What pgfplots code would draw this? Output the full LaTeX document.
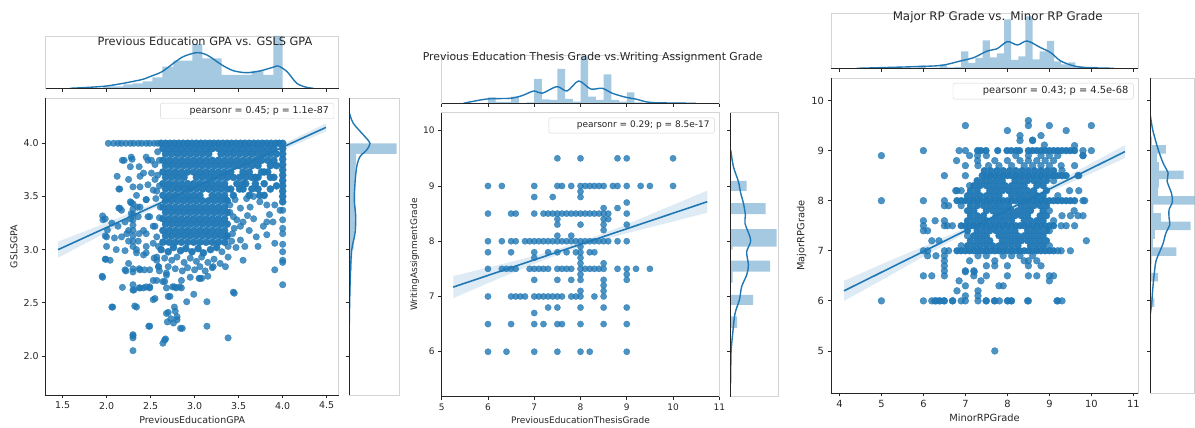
\documentclass[border=0pt]{standalone}
\usepackage{fontspec}
\setmainfont{DejaVu Sans}
\usepackage{pgfplots}
\pgfplotsset{compat=1.18}
\definecolor{c1}{HTML}{1F77B4}
\definecolor{spine}{HTML}{262626}
\definecolor{lgray}{HTML}{D4D4D4}
\newcommand{\tickfont}{\fontsize{9.45}{11}\selectfont}
\newcommand{\tickfontB}{\fontsize{9.0}{11}\selectfont}
\newcommand{\tickfontC}{\fontsize{9.85}{11}\selectfont}
\newcommand{\titlefont}{\fontsize{11.34}{13}\selectfont}
\newcommand{\titlefontB}{\fontsize{10.86}{13}\selectfont}
\newcommand{\titlefontC}{\fontsize{11.85}{13}\selectfont}
\tikzset{
  pr/.style={draw=lgray, rounded corners=2pt, fill=white, anchor=north east, inner xsep=5pt, inner ysep=3.3pt, font=\tickfont, text=spine, xshift=-4.5pt, yshift=-5pt},
  onedec/.style={/pgf/number format/.cd, fixed, fixed zerofill, precision=1, /tikz/.cd},
}
\pgfplotsset{
  base/.style={scale only axis, anchor=south west,
    axis line style={lgray, line width=0.8pt},
    tick align=outside, major tick length=3.5pt,
    tick style={spine, line width=0.8pt},
    /pgf/number format/assume math mode=true,
    tick label style={font=\tickfont, text=spine},
    label style={font=\tickfont, text=spine}},
  mainax/.style={base, xtick pos=left, ytick pos=left,
    after end axis/.code={\draw[spine, line width=0.8pt] (rel axis cs:0,1) -- (rel axis cs:0,0) -- (rel axis cs:1,0);}},
  topax/.style={base, xtick pos=left, ytick=\empty, xticklabels={}, ymin=0,
    after end axis/.code={\draw[spine, line width=0.8pt] (rel axis cs:0,0) -- (rel axis cs:1,0);}},
  rightax/.style={base, ytick pos=left, xtick=\empty, yticklabels={}, xmin=0,
    after end axis/.code={\draw[spine, line width=0.8pt] (rel axis cs:0,0) -- (rel axis cs:0,1);}},
  sc/.style={only marks, mark=*, mark size=3.3pt, color=c1, mark options={fill=c1, draw=c1, fill opacity=0.8, draw opacity=0.8, line width=0.3pt}},
  scd/.style={only marks, mark=*, mark size=3.3pt, color=c1, mark options={fill=c1, draw=c1, fill opacity=0.96, draw opacity=0.96, line width=0.3pt}},
  band/.style={fill=c1, fill opacity=0.15, draw=none},
  reg/.style={c1, line width=1.6pt},
  hist/.style={fill=c1, fill opacity=0.4, draw=none},
  kde/.style={c1, line width=1.4pt, smooth},
}
\begin{document}
\begin{tikzpicture}
\useasboundingbox (0pt,0pt) rectangle (1195pt,428pt);
% ================= PANEL 1 =================
\begin{axis}[mainax, at={(45.7pt,33pt)}, width=293pt, height=297pt,
  xmin=1.309, xmax=4.636, ymin=1.633, ymax=4.426,
  xtick={1.5,2,2.5,3,3.5,4,4.5}, ytick={2,2.5,3,3.5,4},
  x tick label style={onedec}, y tick label style={onedec},
  xlabel={PreviousEducationGPA}, ylabel={GSLSGPA},
  xlabel style={at={(axis description cs:0.5,-0.0842)}, anchor=center},
  ylabel style={at={(axis description cs:-0.1082,0.5)}, anchor=center},
  after end axis/.append code={\node[pr] at (rel axis cs:1,1) {\hspace*{24pt}pearsonr = 0.45; p = 1.1e-87};}]
% dense part
\addplot[scd, mark size=3.6pt] coordinates {
(2.62,4) (2.67,4) (2.72,4) (2.77,4) (2.82,4) (2.87,4) (2.92,4) (2.97,4) (3.02,4) (3.07,4) (3.12,4) (3.17,4) (3.22,4) (3.27,4) (3.32,4)
(3.37,4) (3.42,4) (3.47,4) (3.52,4) (3.57,4) (3.62,4) (3.67,4) (3.72,4) (3.77,4) (3.82,4) (3.87,4) (3.92,4) (3.96,4) (4,4)
(2.64,3.95) (2.71,3.95) (2.78,3.95) (2.85,3.95) (2.92,3.95) (2.99,3.95) (3.06,3.95) (3.13,3.95) (3.20,3.95) (3.27,3.95) (3.34,3.95)
(2.67,3.90) (2.74,3.90) (2.81,3.90) (2.88,3.90) (2.95,3.90) (3.02,3.90) (3.09,3.90) (3.16,3.90) (3.30,3.90) (3.37,3.90)
(2.64,3.84) (2.71,3.84) (2.78,3.84) (2.85,3.84) (2.92,3.84) (2.99,3.84) (3.06,3.84) (3.13,3.84) (3.20,3.84) (3.27,3.84) (3.34,3.84)
(2.67,3.79) (2.74,3.79) (2.81,3.79) (2.88,3.79) (2.95,3.79) (3.02,3.79) (3.09,3.79) (3.16,3.79) (3.23,3.79) (3.30,3.79) (3.37,3.79)
(2.64,3.73) (2.71,3.73) (2.78,3.73) (2.85,3.73) (2.92,3.73) (2.99,3.73) (3.06,3.73) (3.13,3.73) (3.20,3.73) (3.27,3.73) (3.34,3.73)
(2.67,3.68) (2.74,3.68) (2.81,3.68) (2.88,3.68) (3.02,3.68) (3.09,3.68) (3.16,3.68) (3.23,3.68) (3.30,3.68) (3.37,3.68)
(2.64,3.62) (2.71,3.62) (2.78,3.62) (2.85,3.62) (2.92,3.62) (2.99,3.62) (3.06,3.62) (3.13,3.62) (3.20,3.62) (3.27,3.62) (3.34,3.62)
(2.67,3.57) (2.74,3.57) (2.81,3.57) (2.88,3.57) (2.95,3.57) (3.02,3.57) (3.09,3.57) (3.16,3.57) (3.23,3.57) (3.30,3.57) (3.37,3.57)
(2.64,3.51) (2.71,3.51) (2.78,3.51) (2.85,3.51) (2.92,3.51) (2.99,3.51) (3.06,3.51) (3.20,3.51) (3.27,3.51) (3.34,3.51)
(2.67,3.46) (2.74,3.46) (2.81,3.46) (2.88,3.46) (2.95,3.46) (3.02,3.46) (3.09,3.46) (3.16,3.46) (3.23,3.46) (3.30,3.46) (3.37,3.46)
(2.64,3.40) (2.71,3.40) (2.78,3.40) (2.85,3.40) (2.92,3.40) (2.99,3.40) (3.06,3.40) (3.13,3.40) (3.20,3.40) (3.27,3.40) (3.34,3.40)
(2.67,3.35) (2.74,3.35) (2.81,3.35) (2.88,3.35) (2.95,3.35) (3.02,3.35) (3.09,3.35) (3.16,3.35) (3.23,3.35) (3.30,3.35) (3.37,3.35)
(2.64,3.29) (2.71,3.29) (2.78,3.29) (2.85,3.29) (2.92,3.29) (2.99,3.29) (3.06,3.29) (3.13,3.29) (3.20,3.29) (3.27,3.29) (3.34,3.29)
(2.67,3.24) (2.74,3.24) (2.81,3.24) (2.88,3.24) (2.95,3.24) (3.02,3.24) (3.09,3.24) (3.16,3.24) (3.23,3.24) (3.30,3.24) (3.37,3.24)
(2.64,3.18) (2.71,3.18) (2.78,3.18) (2.85,3.18) (2.92,3.18) (2.99,3.18) (3.06,3.18) (3.13,3.18) (3.20,3.18) (3.27,3.18) (3.34,3.18)
(2.67,3.13) (2.74,3.13) (2.81,3.13) (2.88,3.13) (2.95,3.13) (3.02,3.13) (3.09,3.13) (3.16,3.13) (3.23,3.13) (3.30,3.13) (3.37,3.13)
(2.64,3.07) (2.71,3.07) (2.78,3.07) (2.85,3.07) (2.92,3.07) (2.99,3.07) (3.06,3.07) (3.13,3.07) (3.20,3.07) (3.27,3.07) (3.34,3.07)
(3.41,3.95) (3.48,3.95) (3.55,3.95) (3.62,3.95) (3.69,3.95) (3.76,3.95) (3.83,3.95) (3.90,3.95)
(3.44,3.90) (3.51,3.90) (3.58,3.90) (3.65,3.90) (3.72,3.90) (3.79,3.90) (3.86,3.90) (3.93,3.90)
(3.41,3.84) (3.48,3.84) (3.55,3.84) (3.62,3.84) (3.69,3.84) (3.76,3.84) (3.83,3.84) (3.90,3.84)
(3.44,3.79) (3.51,3.79) (3.58,3.79) (3.65,3.79) (3.72,3.79) (3.86,3.79) (3.93,3.79)
(3.41,3.73) (3.55,3.73) (3.62,3.73) (3.76,3.73) (3.79,3.73) (3.83,3.73)
(3.44,3.68) (3.51,3.68) (3.58,3.68) (3.65,3.68) (3.69,3.68) (3.72,3.68) (3.86,3.68) (3.90,3.68)
(3.48,3.62) (3.55,3.62) (3.58,3.62) (3.69,3.62) (3.79,3.62) (3.93,3.60)
(3.41,3.57) (3.51,3.57) (3.55,3.57) (3.65,3.57) (3.72,3.57) (3.86,3.57) (3.44,3.51) (3.62,3.51) (3.74,3.51) (3.79,3.51)
(4,3.95) (4,3.90) (4,3.85) (4,3.80) (4,3.75) (4,3.70) (4,3.65) (4,3.60) (4,3.55) (4,3.50) (4,3.45)
(2.62,3.0) (2.70,2.98) (2.76,3.02) (2.84,2.99) (2.90,3.01) (2.97,2.98) (3.04,3.01) (3.10,2.97) (3.18,3.0) (3.25,3.02)
};
% sparse part
\addplot[sc] coordinates {
(2.02,4) (2.08,4) (2.13,4) (2.17,4) (2.22,4) (2.27,4) (2.31,4) (2.36,4) (2.40,4) (2.45,4) (2.49,4) (2.54,4) (2.58,4)
(4,3.37) (4,3.28) (4,3.20) (4,3.15) (4,3.05) (4,2.98) (4,2.90) (4,2.88) (4,2.67)
(3.36,3.47) (3.40,3.42) (3.44,3.31) (3.52,3.39) (3.63,3.40) (3.55,3.26) (3.67,3.29) (3.82,3.42) (3.91,3.42) (3.97,3.37)
(3.82,3.26) (3.89,3.26) (3.52,3.22) (3.36,3.12) (3.42,3.08) (3.52,3.09) (3.57,3.03) (3.72,3.03) (3.82,3.14) (3.91,3.06)
(3.55,2.90) (3.91,2.81) (3.44,2.60) (3.46,3.47) (3.59,3.48) (3.67,3.50) (3.74,3.45) (3.78,3.22) (3.62,3.18) (3.45,3.20)
(3.70,3.12) (3.48,3.28) (3.40,3.35) (3.85,3.33) (3.43,3.15) (3.47,3.02) (3.60,3.32)
(3.31,2.98) (2.66,2.92) (2.74,2.90) (2.80,2.93) (2.88,2.88) (2.95,2.92) (3.02,2.89) (3.08,2.93) (3.15,2.88) (3.22,2.91)
(2.70,2.84) (2.78,2.82) (2.86,2.80) (2.92,2.83) (3.00,2.81) (3.06,2.84) (3.12,2.80) (3.20,2.83) (2.68,2.76) (2.95,2.74)
(3.05,2.73) (2.85,2.71) (3.15,2.75) (2.64,2.70) (2.75,2.65) (2.83,2.65) (2.60,2.80) (2.57,2.90) (2.59,2.84)
(1.955,3.317) (1.985,3.29) (2.01,3.185) (1.985,3.13) (2.0,3.12) (1.985,2.91) (1.955,2.74) (2.07,2.46) (2.12,3.69) (2.14,3.57)
(2.14,3.39) (2.09,3.11) (2.13,3.22) (2.18,2.645) (2.22,2.80) (2.21,2.99) (2.23,3.15) (2.20,3.84) (2.28,3.87) (2.29,3.85)
(2.27,3.78) (2.25,3.66) (2.27,3.45) (2.28,3.34) (2.30,3.03) (2.30,3.08) (2.30,3.13) (2.30,3.18) (2.30,3.23) (2.30,3.28)
(2.30,3.33) (2.30,3.38) (2.30,3.43) (2.30,2.82) (2.30,2.67) (2.31,2.62) (2.32,2.47) (2.30,2.19) (2.30,2.17) (2.30,2.05)
(2.38,3.69) (2.37,3.78) (2.35,3.40) (2.34,3.51) (2.36,3.31) (2.37,3.15) (2.34,2.97) (2.37,2.82) (2.37,2.64) (2.42,2.64)
(2.43,2.81) (2.45,2.97) (2.45,3.15) (2.47,3.31) (2.45,3.47) (2.47,3.61) (2.47,3.84) (2.51,3.72) (2.53,3.56) (2.49,2.65)
(2.48,2.28) (2.53,2.53) (2.57,2.71) (2.59,2.84) (2.54,2.92) (2.59,3.03) (2.57,3.12) (2.55,3.22) (2.61,3.40) (2.60,3.84)
(2.15,3.57) (2.18,3.84) (2.15,3.39) (2.17,3.12) (2.25,3.08) (2.27,3.29) (2.28,3.44) (2.30,3.59) (2.38,3.59) (2.42,3.72)
(2.45,3.87) (2.51,3.84) (2.55,3.66) (2.57,3.55) (2.45,3.47) (2.38,3.40) (2.49,3.31) (2.53,3.22) (2.42,3.18) (2.36,3.08)
(2.45,3.03) (2.57,2.93) (2.49,2.81) (2.38,2.81) (2.30,2.79) (2.21,2.81) (2.11,3.0) (2.04,2.90) (2.0,3.03) (1.96,3.28)
(2.06,3.25) (2.17,3.37) (2.21,3.26) (2.25,3.18) (2.34,3.0) (2.42,2.95) (2.53,3.06) (2.25,2.87) (2.30,2.62) (2.38,2.64)
(2.45,2.65) (2.53,2.71) (2.55,2.54) (2.49,2.64) (2.58,3.70) (2.60,3.60) (2.56,3.48) (2.60,3.30) (2.58,3.92) (2.55,3.80)
(2.64,2.12) (2.67,2.16) (2.68,2.40) (2.70,2.41) (2.73,2.35) (2.76,2.31) (2.80,2.34) (2.77,2.46) (2.70,2.56) (2.72,2.56)
(2.68,2.64) (2.66,2.70) (2.68,2.78) (2.77,2.65) (2.79,2.64) (2.85,2.64) (2.84,2.26) (2.86,2.26) (2.91,2.51) (2.99,2.58)
(3.06,2.73) (3.08,2.73) (3.14,2.51) (3.14,2.28) (3.21,2.84) (3.29,2.87) (3.38,2.17) (3.45,2.59) (3.35,2.84) (3.38,2.93)
(3.38,3.03) (2.78,2.42) (2.80,2.37) (2.69,2.32) (2.66,2.15) (2.49,2.28) (2.30,2.20) (2.06,2.46) (2.34,2.46) (1.95,2.75) (1.99,2.91)
};
\addplot[band] coordinates {(1.45,3.075) (2.0,3.253) (2.5,3.422) (3.0,3.601) (3.5,3.793) (4.0,3.992) (4.49,4.187)
 (4.49,4.111) (4.0,3.936) (3.5,3.757) (3.0,3.571) (2.5,3.372) (2.0,3.163) (1.45,2.925)} -- cycle;
\addplot[reg] coordinates {(1.45,3.0) (4.49,4.149)};
\end{axis}
\begin{axis}[topax, at={(45.7pt,339.7pt)}, width=293pt, height=52.3pt,
  xmin=1.309, xmax=4.636, ymax=52.3, xtick={1.5,2,2.5,3,3.5,4,4.5}]
\addplot[hist, ybar interval] coordinates {(1.96,2) (2.19,4) (2.30,5) (2.41,7) (2.52,11) (2.633,21.6) (2.758,27.6)
 (2.974,44.3) (3.087,30) (3.308,13.3) (3.515,13.3) (3.648,17.3) (3.78,13.3) (3.894,52.3) (4.0,0)};
\addplot[kde] coordinates {(1.585,0) (2.0,2.3) (2.38,8.3) (2.49,11.6) (2.63,16.6) (2.76,25) (2.87,31.6) (3.02,35.6)
 (3.14,33.3) (3.31,23.3) (3.44,17.6) (3.59,15.6) (3.74,17.3) (3.89,21) (3.95,22.3) (4.05,16.6) (4.16,5) (4.27,1) (4.35,0)};
\end{axis}
\begin{axis}[rightax, at={(349pt,33pt)}, width=50pt, height=297pt,
  xmax=50, ymin=1.633, ymax=4.426, ytick={2,2.5,3,3.5,4}]
\addplot[hist, xbar interval] coordinates {(0.2,2.0) (0.2,2.1) (0.4,2.2) (0.4,2.3) (0.6,2.4) (0.8,2.5) (1.5,2.6) (1.5,2.7)
 (2.5,2.8) (3,2.9) (4.5,3.0) (5.5,3.1) (6.5,3.2) (6.5,3.3) (6,3.4) (6,3.5) (6,3.6) (6.5,3.7) (7,3.8) (47.7,3.9) (0,4.0)};
\addplot[kde] coordinates {(0,4.297) (4.3,4.188) (16,4.062) (21,4.0) (17.7,3.937) (11,3.874) (7.7,3.78) (6,3.624)
 (5.3,3.467) (6.7,3.31) (6,3.153) (2.7,2.996) (1.3,2.745) (0.3,2.307) (0,1.773)};
\end{axis}
% ================= PANEL 2 =================
\begin{axis}[mainax, at={(441.7pt,31.3pt)}, width=277.6pt, height=284pt,
  tick label style={font=\tickfontB}, label style={font=\tickfontB},
  xmin=5, xmax=11, ymin=5.186, ymax=10.326,
  xtick={5,6,7,8,9,10,11}, ytick={6,7,8,9,10},
  xlabel={PreviousEducationThesisGrade}, ylabel={WritingAssignmentGrade},
  xlabel style={at={(axis description cs:0.5,-0.082)}, anchor=center},
  ylabel style={at={(axis description cs:-0.0973,0.5)}, anchor=center},
  after end axis/.append code={\node[pr, font=\tickfontB] at (rel axis cs:1,1) {\hspace*{23pt}pearsonr = 0.29; p = 8.5e-17};}]
\addplot[sc, mark size=3.15pt] coordinates {
(7.5,9.5) (8,9.5) (8.8,9.5) (9,9.5) (10,9.5)
(6,9) (6.3,9) (7,9) (7.5,9) (7.6,9) (7.8,9) (8,9) (8.1,9) (8.2,9) (8.3,9) (8.4,9) (8.5,9) (8.7,9) (8.8,9) (9,9) (9.3,9) (9.5,9) (10,9)
(8,8.9) (7,8.8) (7.4,8.8) (8,8.8) (9,8.7) (8.8,8.6) (8.5,8.6)
(6,8.5) (6.5,8.5) (6.6,8.5) (7,8.5) (7.2,8.5) (7.3,8.5) (7.4,8.5) (7.5,8.5) (7.6,8.5) (7.7,8.5) (7.8,8.5) (7.9,8.5) (8,8.5)
(8.1,8.5) (8.2,8.5) (8.3,8.5) (8.4,8.5) (8.5,8.5) (8.6,8.5) (9,8.5)
(7.5,8.4) (8.5,8.4) (8.6,8.4) (7.5,8.3) (8,8.3) (8.5,8.3) (9,8.3) (8.5,8.2) (7.5,8.1) (7.8,8.1)
(6,8) (6.3,8) (6.5,8) (6.6,8) (6.8,8) (6.9,8) (7,8) (7.1,8) (7.2,8) (7.3,8) (7.4,8) (7.5,8) (7.6,8) (7.7,8) (7.8,8) (7.9,8)
(8,8) (8.1,8) (8.2,8) (8.3,8) (8.4,8) (8.5,8) (8.6,8) (8.8,8) (9,8) (8,7.9)
(6,7.8) (6.5,7.8) (7,7.8) (7.3,7.8) (7.5,7.8) (7.7,7.8) (7.9,7.8) (8,7.8) (8.2,7.8) (8.3,7.8)
(7,7.7) (8,7.7) (8,7.6) (8.5,7.6)
(6,7.5) (6.3,7.5) (6.4,7.5) (6.5,7.5) (6.6,7.5) (6.9,7.5) (7,7.5) (7.1,7.5) (7.2,7.5) (7.3,7.5) (7.5,7.5) (7.6,7.5)
(7.7,7.5) (7.8,7.5) (8,7.5) (8.1,7.5) (8.2,7.5) (8.3,7.5) (8.4,7.5) (8.5,7.5) (8.8,7.5) (9,7.5) (9.2,7.5) (9.5,7.5)
(8,7.4) (9,7.4) (7,7.3) (7.5,7.3) (7.8,7.3) (8,7.3) (8.5,7.3) (9,7.3) (8.5,7.2) (8,7.1) (8.5,7.1)
(6,7) (6.5,7) (6.6,7) (6.7,7) (6.8,7) (7,7) (7.1,7) (7.2,7) (7.3,7) (7.4,7) (7.5,7) (7.6,7) (7.8,7) (7.9,7) (8,7) (8.3,7) (8.5,7)
(7.3,6.8) (7.5,6.8) (8,6.8) (8.5,6.8) (9,6.8) (7,6.7)
(6,6.5) (6.5,6.5) (7,6.5) (7.2,6.5) (7.5,6.5) (7.6,6.5) (8,6.5) (8.5,6.5) (9,6.5)
(6,6) (6.4,6) (7,6) (7.5,6) (8,6) (8.2,6) (9,6)
};
\addplot[band] coordinates {(5.25,7.37) (6,7.521) (7,7.732) (8,7.984) (9,8.305) (10,8.657) (10.74,8.915)
 (10.74,8.515) (10,8.357) (9,8.145) (8,7.904) (7,7.592) (6,7.241) (5.25,6.97)} -- cycle;
\addplot[reg] coordinates {(5.25,7.17) (10.74,8.715)};
\end{axis}
\begin{axis}[topax, at={(441.7pt,324.7pt)}, width=277.6pt, height=48.3pt,
  xmin=5, xmax=11, ymax=48.3, xtick={5,6,7,8,9,10,11}]
\addplot[hist, ybar interval] coordinates {(6.0,6) (6.167,1.5) (6.333,1.5) (6.5,6.7) (6.667,0.5) (6.833,1) (7.0,24.3)
 (7.167,4) (7.333,3.3) (7.5,34.3) (7.667,4.3) (7.833,1.7) (8.0,47) (8.167,6.7) (8.333,3.3) (8.5,29) (8.667,3.3)
 (8.833,1.7) (9.0,11) (9.167,1) (9.333,0.5) (9.5,1) (9.667,0) (9.833,0) (10.0,0.7) (10.167,0)};
\addplot[kde] coordinates {(5.47,0) (5.98,4.3) (6.48,5) (6.74,7.7) (6.99,12.3) (7.17,10) (7.49,16.7) (7.71,12.3)
 (7.96,22.3) (8.22,14.3) (8.47,15) (8.69,10) (8.98,6) (9.19,4.3) (9.48,1) (9.92,0.3) (10.5,0)};
\end{axis}
\begin{axis}[rightax, at={(730.7pt,31.3pt)}, width=47.6pt, height=284pt,
  xmax=47.6, ymin=5.186, ymax=10.326, ytick={6,7,8,9,10}]
\addplot[hist, xbar interval] coordinates {(0.5,5.98) (0,6.05) (6.3,6.43) (0,6.64) (22.3,6.85) (0,7.03) (2,7.25)
 (39.3,7.45) (0,7.65) (2,7.85) (46,7.90) (0,8.22) (35,8.49) (0,8.69) (16,8.91) (0,9.09) (0.5,9.45) (0,9.55)};
\addplot[kde] coordinates {(0,9.65) (2.7,9.35) (7.7,9.08) (10,8.87) (12.7,8.69) (14.7,8.47) (14.3,8.32) (20,8.02)
 (16,7.81) (17.7,7.57) (16,7.39) (11,7.18) (8.7,6.94) (4.3,6.69) (2,6.33) (0.3,5.97) (0,5.43)};
\end{axis}
% ================= PANEL 3 =================
\begin{axis}[mainax, at={(831pt,35pt)}, width=307pt, height=315pt,
  tick label style={font=\tickfontC}, label style={font=\tickfontC},
  xmin=3.80, xmax=11.11, ymin=4.16, ymax=10.45,
  xtick={4,5,6,7,8,9,10,11}, ytick={5,6,7,8,9,10},
  xlabel={MinorRPGrade}, ylabel={MajorRPGrade},
  xlabel style={at={(axis description cs:0.5,-0.0803)}, anchor=center},
  ylabel style={at={(axis description cs:-0.0954,0.5)}, anchor=center},
  after end axis/.append code={\node[pr, font=\tickfontC] at (rel axis cs:1,1) {\hspace*{25pt}pearsonr = 0.43; p = 4.5e-68};}]
% dense part
\addplot[scd, mark size=3.45pt] coordinates {
(6.8,7) (6.9,7) (7,7) (7.1,7) (7.2,7) (7.3,7) (7.4,7) (7.5,7) (7.6,7) (7.7,7) (7.8,7)
(7.9,7) (8,7) (8.1,7) (8.2,7) (8.3,7) (8.4,7) (8.5,7) (8.6,7) (8.7,7) (8.8,7) (8.9,7) (9,7) (9.1,7)
(6.9,7.5) (7,7.5) (7.1,7.5) (7.2,7.5) (7.3,7.5) (7.4,7.5) (7.5,7.5) (7.6,7.5)
(7.7,7.5) (7.8,7.5) (7.9,7.5) (8,7.5) (8.1,7.5) (8.2,7.5) (8.3,7.5) (8.4,7.5) (8.5,7.5) (8.6,7.5) (8.7,7.5) (8.8,7.5)
(8.9,7.5) (9,7.5) (9.1,7.5)
(6.8,8) (6.9,8) (7,8) (7.1,8) (7.2,8) (7.3,8) (7.4,8) (7.5,8) (7.6,8) (7.7,8) (7.8,8) (7.9,8) (8,8)
(8.1,8) (8.2,8) (8.3,8) (8.4,8) (8.5,8) (8.6,8) (8.7,8) (8.8,8) (8.9,8) (9,8) (9.1,8) (9.2,8) (9.3,8) (9.4,8) (9.5,8)
(9.6,8)
(7.4,8.5) (7.5,8.5) (7.6,8.5) (7.7,8.5) (7.8,8.5) (7.9,8.5) (8,8.5) (8.1,8.5) (8.2,8.5) (8.3,8.5)
(8.4,8.5) (8.5,8.5) (8.6,8.5) (8.7,8.5) (8.8,8.5) (8.9,8.5) (9,8.5) (9.1,8.5) (9.2,8.5) (9.3,8.5) (9.4,8.5)
(7.29,9) (7.37,9) (7.49,9) (7.77,9) (7.99,9) (8.09,9) (8.21,9) (8.29,9) (8.5,9) (8.6,9) (8.7,9)
(8.8,9) (8.9,9) (9,9) (9.1,9) (9.2,9) (9.3,9) (9.4,9) (9.5,9) (9.6,9)
(7.2,7.1) (7.35,7.1) (7.5,7.1) (7.65,7.1) (7.8,7.1) (7.95,7.1) (8.1,7.1) (8.25,7.1) (8.55,7.1) (8.7,7.1) (8.85,7.1)
(7.28,7.2) (7.43,7.2) (7.58,7.2) (7.88,7.2) (8.03,7.2) (8.18,7.2) (8.33,7.2) (8.48,7.2) (8.63,7.2) (8.78,7.2) (8.93,7.2)
(7.2,7.3) (7.35,7.3) (7.5,7.3) (7.8,7.3) (7.95,7.3) (8.1,7.3) (8.25,7.3) (8.4,7.3) (8.55,7.3) (8.7,7.3) (8.85,7.3)
(7.28,7.4) (7.43,7.4) (7.58,7.4) (7.73,7.4) (7.88,7.4) (8.03,7.4) (8.18,7.4) (8.48,7.4) (8.63,7.4) (8.78,7.4) (8.93,7.4)
(7.2,7.6) (7.35,7.6) (7.5,7.6) (7.65,7.6) (7.8,7.6) (7.95,7.6) (8.1,7.6) (8.4,7.6) (8.55,7.6) (8.7,7.6) (8.85,7.6)
(7.28,7.7) (7.43,7.7) (7.73,7.7) (7.88,7.7) (8.03,7.7) (8.18,7.7) (8.33,7.7) (8.48,7.7) (8.78,7.7) (8.93,7.7)
(7.2,7.8) (7.5,7.8) (7.65,7.8) (7.8,7.8) (7.95,7.8) (8.1,7.8) (8.25,7.8) (8.4,7.8) (8.55,7.8) (8.85,7.8)
(7.28,7.9) (7.43,7.9) (7.58,7.9) (7.73,7.9) (7.88,7.9) (8.03,7.9) (8.33,7.9) (8.48,7.9) (8.63,7.9) (8.78,7.9) (8.93,7.9)
(7.2,8.1) (7.35,8.1) (7.5,8.1) (7.65,8.1) (7.8,8.1) (8.1,8.1) (8.25,8.1) (8.4,8.1) (8.55,8.1) (8.7,8.1) (8.85,8.1)
(7.28,8.2) (7.58,8.2) (7.73,8.2) (7.88,8.2) (8.03,8.2) (8.18,8.2) (8.33,8.2) (8.48,8.2) (8.63,8.2) (8.93,8.2)
(7.2,8.3) (7.35,8.3) (7.5,8.3) (7.65,8.3) (7.8,8.3) (7.95,8.3) (8.1,8.3) (8.25,8.3) (8.4,8.3) (8.7,8.3) (8.85,8.3)
(7.28,8.4) (7.43,8.4) (7.58,8.4) (7.73,8.4) (7.88,8.4) (8.18,8.4) (8.33,8.4) (8.48,8.4) (8.63,8.4) (8.78,8.4) (8.93,8.4)
(7.45,8.6) (7.6,8.6) (7.75,8.6) (7.9,8.6) (8.05,8.6) (8.2,8.6) (8.35,8.6) (8.5,8.6) (8.65,8.6) (8.8,8.6) (8.95,8.6) (9.1,8.6)
(7.05,7.1) (7.12,7.2) (7.05,7.4) (7.05,7.6) (7.12,7.7) (7.05,7.8) (7.12,7.9) (7.05,8.1) (7.12,8.2)
};
% sparse part
\addplot[sc, mark size=3.45pt] coordinates {
(6,7) (6.1,7) (6.5,7) (6.6,7) (9.28,7) (9.5,7) (6,7.5) (6.5,7.5) (6.57,7.5) (6.69,7.5) (9.28,7.5) (9.4,7.5) (9.6,7.5)
(5,8) (6,8) (6.5,8) (9.84,8) (6.5,8.5) (7,8.5) (9.68,8.5) (6,9) (6.85,9) (7,9) (9.8,9) (10,9) (9.3,8.6)
(7,8.7) (7.3,8.7) (7.55,8.7) (7.8,8.7) (8.1,8.7) (8.4,8.7) (8.6,8.7) (8.8,8.7) (9,8.7) (9.28,8.7) (9.6,8.7)
(6.79,8.8) (7.29,8.8) (7.7,8.8) (8,8.8) (8.3,8.8) (8.5,8.8) (8.7,8.8) (8.9,8.8) (9.1,8.8)
(7.1,8.9) (7.29,8.9) (7.5,8.9) (8.2,8.9) (8.5,8.9) (8.8,8.9) (9,8.9) (9.2,8.9) (9.8,8.9)
(6.9,7.1) (9,7.1) (6.2,7.2) (6.37,7.2) (9.88,7.2) (7.05,7.3) (6,7.4) (6.1,7.4) (9,7.4) (6,7.6) (6.28,7.6) (6.5,7.6)
(9.1,7.6) (9.3,7.7) (9.68,7.7) (9.8,7.7) (9.5,7.7) (9.59,7.8) (9,7.8) (6.5,7.9) (6.6,7.9) (6.9,7.9) (9.2,8.1) (6.77,8.2)
(6.9,8.2) (9.48,8.2) (9.7,8.2) (7.1,8.3) (9.1,8.4)
(5,8.9) (5,6) (6,6.5) (6,6) (6.1,6.9) (6.2,6.5) (6.2,6) (6.3,6.9) (6.3,6) (6.4,6) (6.5,6.9) (6.5,6.8) (6.5,6.7)
(6.5,6.6) (6.5,6.5) (6.5,6) (6.7,6) (6.8,6.2) (6.8,8.2) (6.85,6.4) (6.9,6) (7,9.5) (7,6.3) (7,6.1) (7,6) (7,6.6)
(7.1,6.8) (7.2,6.5) (7.2,6.6) (7.3,6.2) (7.3,6.1) (7.3,6) (7.37,6.4) (7.5,6.7) (7.5,6.5) (7.5,6) (7.7,6.7) (7.7,6.8)
(7.7,6) (7.7,5) (7.8,6.3) (7.9,6.3) (8,6.7) (8,9.4) (8,6.5) (8,6) (8.1,6) (8.3,9.3) (8.3,9.2) (8.4,6.8) (8.5,9.6)
(8.5,9.5) (8.5,6.7) (8.5,6.8) (8.5,6.5) (8.5,6) (8.6,9.2) (8.7,6.5) (8.7,6.8) (8.8,9.3) (8.8,6.7) (9,9.5) (9,6.5)
(9,6.4) (9.1,6.5) (9.2,6) (9.3,6) (9.2,7) (9.4,9.4) (9.6,9.1) (9.8,8) (9.8,8.9) (9.7,8.5) (8.88,9.11) (8.6,9.21)
(10,9.5) (6.27,6) (6.37,6) (6.49,6) (6.69,6) (7.49,6) (7.69,6) (7.81,6) (8.01,6) (8.09,6) (8.48,6) (9.18,6)
(7.5,6.9) (7.9,6.9) (8.1,6.9) (8.3,6.9) (8.6,6.9) (7.3,6.9) (7.0,6.58) (7.21,6.58)
};
\addplot[band] coordinates {(4.11,6.40) (5,6.73) (6,7.085) (7,7.451) (8,7.846) (9,8.292) (10,8.747) (10.8,9.11)
 (10.8,8.85) (10,8.547) (9,8.172) (8,7.786) (7,7.351) (6,6.885) (5,6.41) (4.11,6.00)} -- cycle;
\addplot[reg] coordinates {(4.11,6.2) (10.8,8.98)};
\end{axis}
\begin{axis}[topax, at={(831pt,359.7pt)}, width=307pt, height=55pt,
  xmin=3.80, xmax=11.11, ymax=55, xtick={4,5,6,7,8,9,10,11}]
\addplot[hist, ybar interval] coordinates {(4.98,0.7) (5.15,0) (5.88,3) (6.05,0.5) (6.22,0.7) (6.39,4) (6.56,1)
 (6.73,1.5) (6.90,17) (7.07,5.5) (7.24,10.5) (7.41,28) (7.58,11) (7.75,15) (7.92,49) (8.09,8.5) (8.26,12) (8.43,52)
 (8.60,9) (8.77,17) (8.94,27.5) (9.11,7) (9.28,4) (9.45,6) (9.62,2) (9.79,1) (9.96,1.5) (10.13,0)};
\addplot[kde] coordinates {(4.41,0) (5.85,1.7) (6.44,3) (6.88,7.3) (7.2,10.7) (7.52,17.3) (7.76,19.7) (8.0,26.7)
 (8.24,23.3) (8.47,27.3) (8.79,20.7) (9.03,15.7) (9.27,7.3) (9.59,2.3) (9.9,0.7) (10.54,0)};
\end{axis}
\begin{axis}[rightax, at={(1150pt,35pt)}, width=44.5pt, height=315pt,
  xmax=45, ymin=4.16, ymax=10.45, ytick={5,6,7,8,9,10}]
\addplot[hist, xbar interval] coordinates {(0.5,4.97) (0,5.14) (4.3,5.88) (0.8,6.05) (1,6.22) (8.3,6.39) (1.5,6.56)
 (1.7,6.73) (26.7,6.90) (3,7.07) (5,7.24) (41,7.41) (11,7.58) (3.3,7.75) (45,7.92) (8,8.09) (9,8.26) (34,8.43)
 (9,8.60) (7,8.77) (16,8.94) (2,9.11) (1,9.28) (1,9.45) (0,9.62)};
\addplot[kde] coordinates {(0,9.75) (2.7,9.42) (8.3,9.02) (13.3,8.75) (18.3,8.55) (17.3,8.39) (21.7,8.15) (22.7,7.98)
 (19.3,7.82) (19.3,7.65) (20,7.52) (16,7.35) (13.3,7.15) (10,6.99) (6,6.79) (4,6.49) (2.7,6.22) (1.7,5.95) (0,5.69)};
\end{axis}
% ================= TITLES =================
\node[font=\titlefont, text=spine] at (205pt,387pt) {Previous Education GPA vs. GSLS GPA};
\node[font=\titlefontB, text=spine] at (592.7pt,370.5pt) {Previous Education Thesis Grade vs.Writing Assignment Grade};
\node[font=\titlefontC, text=spine] at (997.7pt,410.5pt) {Major RP Grade vs. Minor RP Grade};
\end{tikzpicture}
\end{document}
